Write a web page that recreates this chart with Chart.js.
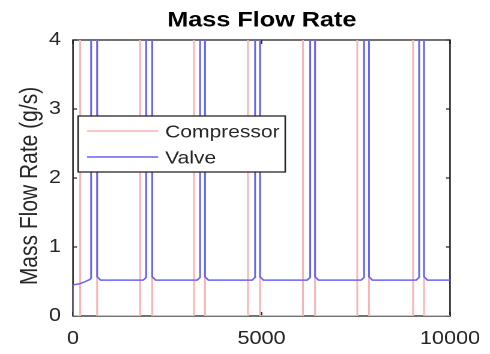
<!DOCTYPE html>
<html><head><meta charset="utf-8">
<script src="https://cdn.jsdelivr.net/npm/chart.js@4.4.1/dist/chart.umd.min.js"></script>
<style>
html,body{margin:0;padding:0;background:#fff;overflow:hidden;}
#wrap{position:absolute;left:0;top:0;width:408px;height:354px;transform:scaleX(1.201);transform-origin:0 0;}
</style></head><body>
<div id="wrap"><canvas id="c"></canvas></div>
<script>
const chartTitle = 'Mass Flow Rate';
const yAxisTitle = 'Mass Flow Rate (g/s)';
const seriesNames = ['Compressor', 'Valve'];
const xTicks = [0, 5000, 10000];
const yTicks = [0, 1, 2, 3, 4];

const compTime = [0,190,190,640,640, 1780,1780,2100,2100, 3210,3210,3500,3500, 4640,4640,4960,4960, 6100,6100,6420,6420, 7540,7540,7850,7850, 9020,9020,9310,9310, 10000];
const compFlow = [0,0,12,12,0, 0,12,12,0, 0,12,12,0, 0,12,12,0, 0,12,12,0, 0,12,12,0, 0,12,12,0, 0];

const valveTime = [0,0,190,330,450,480,480,640, 640,730,1860,1940,1940,2100, 2100,2190,3290,3370,3370,3500, 3500,3590,4750,4830,4830,4960, 4960,5050,6210,6290,6290,6420, 6420,6510,7640,7720,7720,7850, 7850,7940,9100,9180,9180,9310, 9310,9400,10000];
const valveFlow = [0,0.45,0.47,0.50,0.53,0.55,8,8, 0.57,0.52,0.52,0.56,8,8, 0.57,0.52,0.52,0.56,8,8, 0.57,0.52,0.52,0.56,8,8, 0.57,0.52,0.52,0.56,8,8, 0.57,0.52,0.52,0.56,8,8, 0.57,0.52,0.52,0.56,8,8, 0.57,0.52,0.52];

const FONT = '"Liberation Sans", Arial, Helvetica, sans-serif';
const AXIS = '#262626';
const toPoints = (xs, ys) => xs.map((x, i) => ({x: x, y: ys[i]}));

const frame = {
  id: 'frame',
  beforeDatasetsDraw(chart) {
    const {ctx, chartArea: a, scales: {x, y}} = chart;
    ctx.save();
    ctx.strokeStyle = AXIS; ctx.lineWidth = 1.3;
    ctx.strokeRect(a.left, a.top, a.right - a.left, a.bottom - a.top);
    ctx.beginPath();
    x.ticks.forEach(t => {
      const px = x.getPixelForValue(t.value);
      ctx.moveTo(px, a.bottom); ctx.lineTo(px, a.bottom - 4);
      ctx.moveTo(px, a.top); ctx.lineTo(px, a.top + 4);
    });
    y.ticks.forEach(t => {
      const py = y.getPixelForValue(t.value);
      ctx.moveTo(a.left, py); ctx.lineTo(a.left + 3.3, py);
      ctx.moveTo(a.right, py); ctx.lineTo(a.right - 3.3, py);
    });
    ctx.stroke();
    ctx.restore();
  }
};

const boxLegend = {
  id: 'boxLegend',
  afterDatasetsDraw(chart) {
    const {ctx, chartArea: a} = chart;
    const bx = a.left + 4.2, by = a.top + 76, bw = 172.5, bh = 56;
    ctx.save();
    ctx.fillStyle = '#fff'; ctx.fillRect(bx, by, bw, bh);
    ctx.strokeStyle = AXIS; ctx.lineWidth = 1.3; ctx.strokeRect(bx, by, bw, bh);
    ctx.font = '17.5px ' + FONT;
    ctx.textBaseline = 'middle'; ctx.textAlign = 'left';
    chart.data.datasets.forEach((ds, i) => {
      const ly = by + 15 + i * 26;
      ctx.strokeStyle = ds.borderColor; ctx.lineWidth = 1.5;
      ctx.beginPath(); ctx.moveTo(bx + 7.5, ly); ctx.lineTo(bx + 66.7, ly); ctx.stroke();
      ctx.fillStyle = AXIS; ctx.fillText(ds.label, bx + 72.5, ly + 1.5);
    });
    ctx.restore();
  }
};

const yTitle = {
  id: 'yTitle',
  afterDraw(chart) {
    const {ctx, chartArea: a} = chart;
    ctx.save();
    ctx.translate(25, (a.top + a.bottom) / 2 + 8);
    ctx.rotate(-Math.PI / 2);
    ctx.font = '21px ' + FONT;
    ctx.fillStyle = AXIS; ctx.textAlign = 'center'; ctx.textBaseline = 'middle';
    ctx.fillText(yAxisTitle, 0, 0);
    ctx.restore();
  }
};

new Chart(document.getElementById('c'), {
  type: 'line',
  data: {
    datasets: [
      {label: seriesNames[0], data: toPoints(compTime, compFlow), borderColor: 'rgb(252,178,178)', borderWidth: 1.5, pointRadius: 0, tension: 0, fill: false, order: 1},
      {label: seriesNames[1], data: toPoints(valveTime, valveFlow), borderColor: 'rgb(100,100,248)', borderWidth: 1.5, pointRadius: 0, tension: 0, fill: false, order: 0}
    ]
  },
  options: {
    responsive: true, maintainAspectRatio: false, animation: false, devicePixelRatio: 2,
    layout: {autoPadding: false, padding: {left: 28, right: 0, top: 0, bottom: 0}},
    plugins: {
      legend: {display: false},
      tooltip: {enabled: false},
      title: {display: true, text: chartTitle, color: '#000', font: {family: FONT, size: 21, weight: 'bold'}, padding: {top: 8, bottom: 6.8}}
    },
    scales: {
      x: {
        type: 'linear', min: 0, max: 10000,
        afterBuildTicks: s => { s.ticks = xTicks.map(v => ({value: v})); },
        ticks: {color: AXIS, font: {family: FONT, size: 18}, padding: 12, maxRotation: 0, callback: v => String(v)},
        grid: {display: false, drawTicks: false}, border: {display: false},
        afterFit: s => { s.height = 38; s.paddingLeft = 0; s.paddingRight = 0; }
      },
      y: {
        type: 'linear', min: 0, max: 4,
        afterBuildTicks: s => { s.ticks = yTicks.map(v => ({value: v})); },
        ticks: {color: AXIS, font: {family: FONT, size: 18}, padding: 10, callback: v => String(v)},
        grid: {display: false, drawTicks: false}, border: {display: false},
        afterFit: s => { s.width = 32.8; s.paddingTop = 0; s.paddingBottom = 0; }
      },
      yRight: {
        type: 'linear', position: 'right', min: 0, max: 4, display: true,
        ticks: {display: false}, grid: {display: false, drawTicks: false}, border: {display: false},
        afterFit: s => { s.width = 33.3; }
      }
    }
  },
  plugins: [frame, boxLegend, yTitle]
});
</script>
</body></html>
